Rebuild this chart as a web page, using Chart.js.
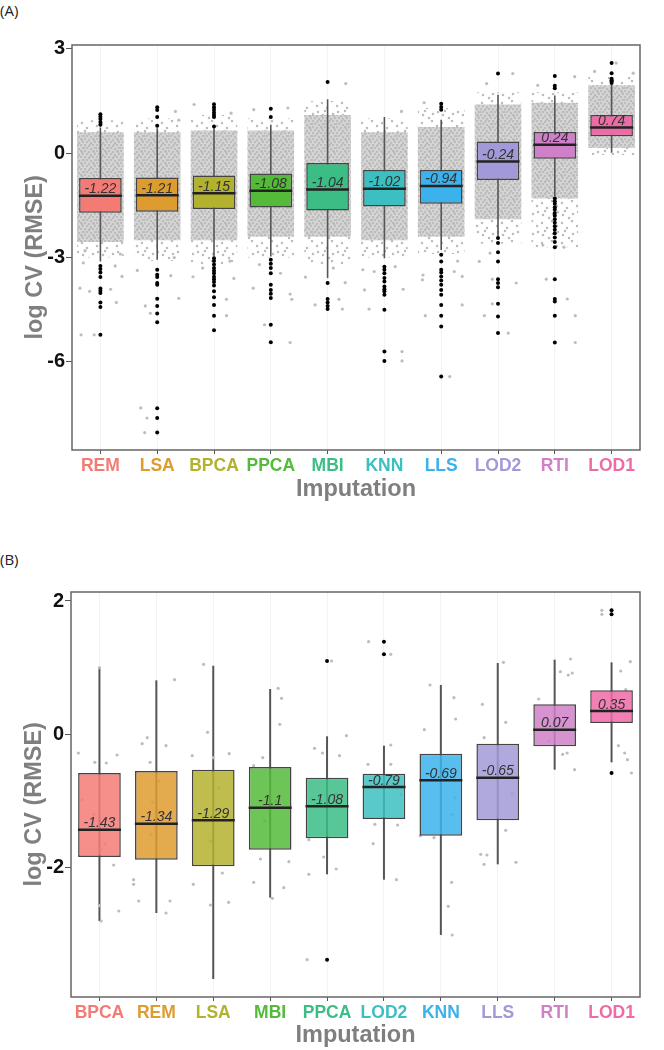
<!DOCTYPE html>
<html>
<head>
<meta charset="utf-8">
<script src="https://cdn.jsdelivr.net/npm/chart.js@4.4.1/dist/chart.umd.min.js"></script>
<style>
  body { margin: 0; background: #fff; width: 664px; height: 1050px; position: relative; overflow: hidden; }
  .tag { position: absolute; left: 0; font: 15px "Open Sans", sans-serif; color: #222; }
  canvas { position: absolute; left: 0; }
</style>
</head>
<body>
<div class="tag" style="top:0px">(A)</div>
<div class="tag" style="top:549px">(B)</div>
<canvas id="chartA" width="664" height="510" style="top:0"></canvas>
<canvas id="chartB" width="664" height="540" style="top:510px"></canvas>
<script>
// --- Panel A: all proteins ---
const catsA = ['REM', 'LSA', 'BPCA', 'PPCA', 'MBI', 'KNN', 'LLS', 'LOD2', 'RTI', 'LOD1'];
const q1A = [-1.71, -1.68, -1.60, -1.56, -1.65, -1.53, -1.45, -0.77, -0.16, 0.49];
const q3A = [-0.71, -0.70, -0.64, -0.58, -0.28, -0.48, -0.48, 0.34, 0.61, 1.10];
const medA = [-1.22, -1.21, -1.15, -1.08, -1.04, -1.02, -0.94, -0.24, 0.24, 0.74];
const whiskLoA = [-3.11, -3.06, -2.97, -2.97, -3.59, -3.02, -2.78, -2.39, -1.24, 0.0];
const whiskHiA = [0.74, 0.72, 0.72, 0.82, 1.55, 1.04, 0.96, 1.68, 1.66, 1.98];
const outliersA = [
  [1.12, 1.05, 0.98, 0.9, 0.82, -3.24, -3.33, -3.43, -3.56, -3.89, -3.95, -4.02, -4.29, -4.42, -5.22],
  [1.32, 1.24, 1.04, 0.79, -3.35, -3.49, -3.56, -3.73, -3.78, -4.18, -4.39, -4.61, -4.86, -7.33, -7.61, -8.03],
  [1.41, 1.32, 1.25, 1.17, 1.1, 1.04, 0.77, -3.02, -3.1, -3.2, -3.3, -3.38, -3.45, -3.55, -3.62, -3.7, -3.8, -3.97, -4.14, -4.36, -4.67, -5.09],
  [1.28, 1.04, -3.06, -3.18, -3.3, -3.45, -3.78, -3.93, -4.04, -4.16, -4.93, -5.43],
  [2.05, -3.73, -4.19, -4.29, -4.39, -4.48],
  [-3.26, -3.35, -3.45, -3.59, -3.69, -3.83, -3.91, -3.97, -4.07, -4.5, -5.7, -5.97],
  [1.42, 1.33, 1.25, -2.92, -3.11, -3.35, -3.43, -3.54, -3.66, -3.78, -3.93, -4.07, -4.36, -4.67, -4.98, -6.42],
  [2.29, -2.44, -2.58, -2.85, -3.11, -3.62, -3.73, -3.85, -4.33, -4.69, -5.17],
  [2.22, 1.94, 1.87, -1.3, -1.38, -1.45, -1.55, -1.62, -1.72, -1.8, -1.9, -2.0, -2.1, -2.2, -2.3, -2.42, -2.55, -2.7, -3.62, -4.19, -4.26, -4.67, -5.44],
  [2.59, 2.3, 2.14, 2.1, 2.06, 2.02]
];
// scattered grey observations outside the dense cloud: [jitter, value]
const jitterA = [
  [[-0.36, -3.88], [-0.19, -3.97], [0.18, -3.91], [0.28, -4.29], [0.26, -3.24], [0.38, -3.54], [-0.27, -2.8], [-0.34, -5.22], [-0.11, -5.22], [0.35, -2.9], [-0.3, -3.15]],
  [[-0.35, -3.37], [0.24, -3.52], [0.38, -4.17], [-0.21, -4.39], [-0.12, -4.6], [-0.29, -7.32], [-0.18, -7.61], [-0.22, -8.03], [0.3, -3.0], [0.38, 0.95], [0.32, 1.2]],
  [[-0.37, -3.55], [0.22, -4.2], [0.22, -4.67], [0.35, -3.6], [0.28, -3.1], [-0.2, -3.3], [-0.35, 1.4], [0.3, 1.15]],
  [[-0.31, -3.88], [-0.11, -4.93], [0.34, -5.44], [0.17, -3.45], [0.37, -4.2], [0.34, -4.05], [-0.2, -3.2], [-0.3, 1.25], [0.3, 1.3]],
  [[-0.39, -3.56], [-0.22, -4.36], [0.2, -4.2], [0.26, -4.48], [0.31, -3.72], [0.1, -3.3], [0.32, 2.0]],
  [[-0.38, -3.35], [-0.18, -3.4], [-0.35, -3.93], [0.19, -3.26], [0.33, -3.91], [-0.27, -4.48], [0.31, -5.7], [0.31, -5.97], [0.3, 1.2]],
  [[-0.33, -3.64], [-0.32, -3.5], [0.23, -3.4], [0.29, -3.1], [0.37, -3.54], [0.37, -4.36], [-0.28, -4.67], [0.15, -6.42], [-0.3, 1.45]],
  [[-0.33, -3.11], [-0.24, -4.67], [-0.1, -3.62], [0.32, -3.73], [-0.1, -4.33], [0.18, -5.17], [-0.14, -2.87], [0.26, 2.29], [-0.2, 2.0]],
  [[-0.15, -3.62], [0.22, -4.19], [0.36, -4.67], [0.16, -2.7], [-0.21, -2.64], [0.36, -5.44], [0.35, 2.2], [-0.3, 1.95]],
  [[0.08, 2.59], [-0.3, 2.35], [0.38, 2.3]]
];
// extent of the jittered grey cloud: sparse outer band and dense core
const cloudOuterA = [[-3.0, 0.95], [-3.1, 1.0], [-3.2, 1.1], [-3.0, 1.0], [-3.2, 1.5], [-3.0, 1.0], [-2.9, 1.3], [-2.6, 1.75], [-2.7, 1.75], [-0.05, 2.2]];
const cloudInnerA = [[-2.55, 0.6], [-2.5, 0.6], [-2.5, 0.65], [-2.4, 0.65], [-2.4, 1.1], [-2.5, 0.6], [-2.4, 0.75], [-1.9, 1.4], [-1.3, 1.45], [0.15, 1.95]];
const yTicksA = [-6, -3, 0, 3];

// --- Panel B ---
const catsB = ['BPCA', 'REM', 'LSA', 'MBI', 'PPCA', 'LOD2', 'KNN', 'LLS', 'RTI', 'LOD1'];
const q1B = [-1.84, -1.88, -1.98, -1.73, -1.56, -1.27, -1.52, -1.29, -0.18, 0.17];
const q3B = [-0.58, -0.55, -0.53, -0.49, -0.65, -0.59, -0.29, -0.14, 0.45, 0.66];
const medB = [-1.43, -1.34, -1.29, -1.1, -1.08, -0.79, -0.69, -0.65, 0.07, 0.35];
const whiskLoB = [-2.80, -2.68, -3.67, -2.45, -2.10, -2.18, -3.01, -1.95, -0.53, -0.42];
const whiskHiB = [1.0, 0.81, 1.03, 0.68, -0.03, -0.17, 0.74, 1.07, 1.12, 1.08];
const outliersB = [[], [], [], [], [1.10, -3.38], [1.39, 1.20], [], [], [], [1.86, 1.80, -0.58]];
const jitterB = [
  [[0, 1.0], [-0.37, -0.28], [-0.08, -0.42], [0.12, -0.43], [0.31, -0.31], [0, -2.57], [0.03, -2.8], [0.25, -1.96], [0.34, -2.65], [-0.3, -0.98], [0.03, -1.73], [0.1, -1.65], [-0.1, -1.2]],
  [[0.32, 0.82], [-0.25, -0.14], [-0.16, -0.05], [0.17, -0.17], [-0.11, -0.42], [0.05, -0.7], [-0.07, -1.02], [-0.4, -2.18], [-0.4, -2.25], [-0.31, -2.5], [0.17, -2.68], [0.24, -2.5], [-0.1, -1.5]],
  [[-0.17, 1.05], [-0.1, 0.03], [-0.37, -0.32], [0.28, -0.29], [0, -0.35], [-0.35, -2.25], [-0.05, -2.56], [0.16, -2.08], [0.27, -2.52], [0.1, -0.8], [-0.05, -1.6]],
  [[0.14, 0.69], [0.2, 0.54], [0.17, 0.15], [-0.13, -0.35], [-0.29, -0.47], [-0.29, -2.22], [-0.17, -1.87], [0.04, -2.46], [0.24, -2.3], [0.33, -1.91], [0.1, -1.0], [-0.1, -1.3]],
  [[0.08, 1.1], [-0.22, -0.21], [-0.08, -0.28], [0.22, -0.32], [0.34, -0.02], [-0.32, -1.58], [-0.06, -1.84], [-0.32, -2.1], [0.16, -2.02], [-0.35, -3.38], [0.15, -0.9]],
  [[-0.27, 1.39], [0.12, 1.2], [0.12, -0.16], [-0.28, -0.45], [0.12, -0.45], [-0.16, -1.35], [0.24, -1.36], [-0.19, -1.64], [0.22, -2.18], [0.3, -0.9]],
  [[-0.19, 0.74], [0.23, 0.55], [0.26, 0.23], [-0.29, 0.07], [-0.36, -1.52], [-0.12, -1.55], [0.19, -2.22], [0.13, -2.58], [0.2, -3.01], [0.25, -0.95], [0.2, -1.2]],
  [[0.1, 1.08], [-0.27, 0.45], [0.14, 0.18], [-0.24, -0.05], [0.25, -0.89], [0.14, -1.44], [-0.3, -1.8], [-0.19, -1.81], [-0.24, -1.95], [0.32, -1.92], [0.2, -0.6]],
  [[0.28, 1.13], [0.1, 0.94], [0.24, 0.89], [0.31, 0.92], [-0.28, 0.53], [0.14, -0.3], [0.22, -0.28], [0.35, -0.53], [0.1, 0.2], [-0.1, -0.1]],
  [[-0.17, 1.86], [-0.17, 1.8], [0.33, 1.09], [0.16, 0.95], [0.25, 0.67], [0.12, -0.17], [0.23, -0.28], [0.28, -0.38], [0.35, -0.58], [0.1, 0.4]]
];
const yTicksB = [-2, 0, 2];

const palette = ['#F47B74', '#DE9C2E', '#B3B22E', '#53BA3A', '#3BBD85', '#3CBFC0', '#3BB2EC', '#A29AD8', '#CF80C8', '#EF6BA8'];

Chart.defaults.font.family = '"Liberation Sans", Arial, sans-serif';
Chart.defaults.animation = false;

// grey jitter texture for the clouds
function cloudPattern(ctx, size, dots, bg) {
    const tile = document.createElement('canvas');
    tile.width = tile.height = size;
    const g = tile.getContext('2d');
    if (bg) {
        g.fillStyle = bg;
        g.fillRect(0, 0, size, size);
    }
    g.fillStyle = '#bcbcbc';
    dots.forEach(([dx, dy]) => {
        g.beginPath();
        g.arc(dx, dy, 1.25, 0, Math.PI * 2);
        g.fill();
    });
    return ctx.createPattern(tile, 'repeat');
}

function withAlpha(hex, a) {
    const n = parseInt(hex.slice(1), 16);
    return `rgba(${n >> 16}, ${(n >> 8) & 255}, ${n & 255}, ${a})`;
}

// median labels + panel frame
const boxExtras = {
    id: 'boxExtras',
    afterDatasetsDraw(chart, args, opts) {
        const {ctx, chartArea: a} = chart;
        const xs = chart.scales.x, ys = chart.scales.y;
        ctx.save();
        ctx.font = 'italic 14px "Liberation Sans", Arial, sans-serif';
        ctx.fillStyle = '#333';
        ctx.textAlign = 'center';
        ctx.textBaseline = 'alphabetic';
        opts.medians.forEach((m, i) => {
            ctx.fillText(String(m), xs.getPixelForValue(i), ys.getPixelForValue(m) - 2.5);
        });
        ctx.strokeStyle = '#666';
        ctx.lineWidth = 1.5;
        ctx.strokeRect(a.left, a.top, a.right - a.left, a.bottom - a.top);
        ctx.restore();
    }
};

function buildChart(id, d, lay) {
    const canvas = document.getElementById(id);
    const ctx = canvas.getContext('2d');
    const datasets = [];

    if (d.cloudOuter) {
        const sparse = cloudPattern(ctx, 20, [[2, 3], [12, 1], [7, 8], [17, 6], [3, 15], [13, 14], [9, 18], [18, 12], [5, 11]]);
        const dense = cloudPattern(ctx, 12, [[1, 1], [5, 2], [9, 1], [3, 4], [7, 5], [11, 4], [1, 7], [5, 8], [9, 7],
            [3, 10], [7, 11], [11, 10], [6, 0], [0, 4], [10, 8]], '#d6d6d6');
        datasets.push({
            type: 'bar', data: d.cloudOuter, backgroundColor: sparse, borderWidth: 0,
            barPercentage: 0.82, categoryPercentage: 1, grouped: false, order: 7
        });
        datasets.push({
            type: 'bar', data: d.cloudInner, backgroundColor: dense, borderWidth: 0,
            barPercentage: 0.82, categoryPercentage: 1, grouped: false, order: 6
        });
    }

    datasets.push({
        type: 'bar',
        data: d.whiskLo.map((lo, i) => [lo, d.whiskHi[i]]),
        backgroundColor: '#555', borderWidth: 0,
        maxBarThickness: lay.whiskerWidth, grouped: false, order: 5
    });
    datasets.push({
        type: 'scatter', xAxisID: 'xj',
        data: d.jitter.flatMap((pts, i) => pts.map(([dx, v]) => ({x: i + dx, y: v}))),
        pointRadius: 1.6, backgroundColor: '#bdbdbd', borderWidth: 0, order: 4
    });
    datasets.push({
        type: 'bar',
        data: d.q1.map((lo, i) => [lo, d.q3[i]]),
        backgroundColor: palette.map(c => withAlpha(c, lay.boxAlpha)),
        borderColor: '#444', borderWidth: 1.5, borderSkipped: false,
        barPercentage: 0.75, categoryPercentage: 1, grouped: false, order: 3
    });
    datasets.push({
        type: 'scatter', xAxisID: 'xj',
        data: d.med.map((m, i) => ({x: i, y: m})),
        pointStyle: 'line', pointRadius: 21.5, borderColor: '#222', borderWidth: 2.5, order: 2
    });
    datasets.push({
        type: 'scatter', xAxisID: 'xj',
        data: d.outliers.flatMap((vals, i) => vals.map(v => ({x: i, y: v}))),
        pointRadius: 2, backgroundColor: '#000', borderWidth: 0, order: 1
    });

    return new Chart(canvas, {
        type: 'bar',
        data: {labels: d.cats, datasets},
        options: {
            responsive: false,
            layout: {padding: {top: lay.padTop, right: lay.padRight, left: 0, bottom: 0}},
            plugins: {
                legend: {display: false},
                tooltip: {enabled: false},
                boxExtras: {medians: d.med}
            },
            scales: {
                x: {
                    offset: true,
                    afterFit: s => { s.height = lay.xAxisHeight; },
                    grid: {offset: false, color: '#f3f3f3', tickColor: '#555', tickLength: 4},
                    border: {display: false},
                    ticks: {
                        padding: 2,
                        font: {size: 17.5, weight: 'bold'},
                        color: c => palette[c.index]
                    },
                    title: {
                        display: true, text: 'Imputation', color: '#7f7f7f',
                        font: {size: 23.5, weight: 'bold'},
                        padding: {top: 0, bottom: lay.xTitlePad}
                    }
                },
                xj: {type: 'linear', display: false, offset: false, min: -0.5, max: 9.5},
                y: {
                    min: lay.yMin, max: lay.yMax,
                    afterBuildTicks: s => { s.ticks = d.yTicks.map(v => ({value: v})); },
                    afterFit: s => { s.width = lay.yAxisWidth; },
                    grid: {drawOnChartArea: false, tickColor: '#555', tickLength: 6},
                    border: {display: false},
                    ticks: {padding: 1, color: '#111', font: {size: 20, weight: 'bold'}},
                    title: {
                        display: true, text: 'log CV (RMSE)   ', color: '#7f7f7f',
                        font: {size: 23.5, weight: 'bold'},
                        padding: {top: lay.yTitlePad, bottom: 0}
                    }
                }
            }
        },
        plugins: [boxExtras]
    });
}

buildChart('chartA', {
    cats: catsA, q1: q1A, q3: q3A, med: medA, whiskLo: whiskLoA, whiskHi: whiskHiA,
    outliers: outliersA, jitter: jitterA, cloudOuter: cloudOuterA, cloudInner: cloudInnerA, yTicks: yTicksA
}, {padTop: 45, padRight: 2, yAxisWidth: 72, xAxisHeight: 60, xTitlePad: 6, yTitlePad: 21,
    yMin: -8.53, yMax: 3.11, boxAlpha: 1, whiskerWidth: 1.6});

buildChart('chartB', {
    cats: catsB, q1: q1B, q3: q3B, med: medB, whiskLo: whiskLoB, whiskHi: whiskHiB,
    outliers: outliersB, jitter: jitterB, yTicks: yTicksB
}, {padTop: 82, padRight: 3, yAxisWidth: 71, xAxisHeight: 53, xTitlePad: 0, yTitlePad: 20,
    yMin: -3.94, yMax: 2.135, boxAlpha: 0.85, whiskerWidth: 2});
</script>
</body>
</html>
